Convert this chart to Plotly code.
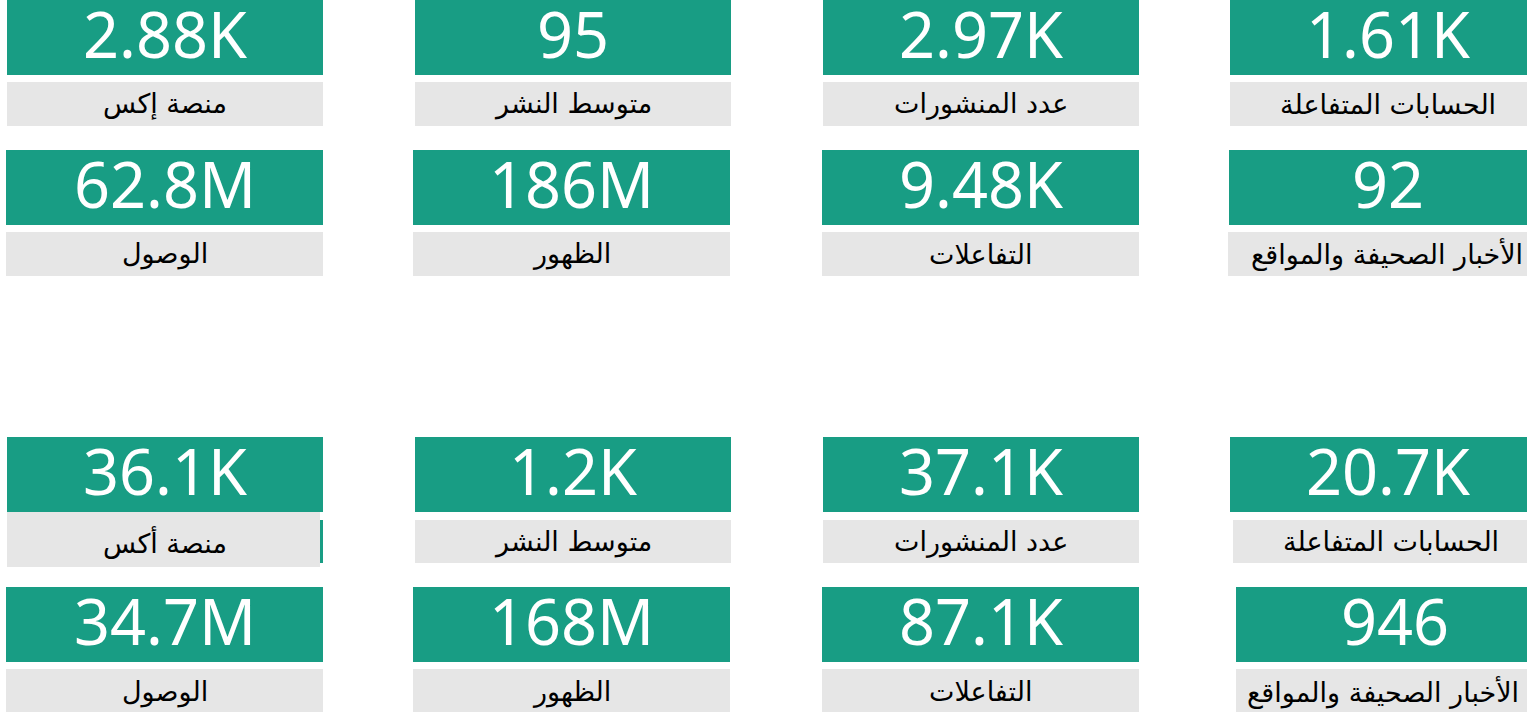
import plotly.graph_objects as go

# two periods, four cards per row, two rows per period
labels_row1 = ['منصة إكس', 'متوسط النشر', 'عدد المنشورات', 'الحسابات المتفاعلة']
labels_row2 = ['الوصول', 'الظهور', 'التفاعلات', 'الأخبار الصحيفة والمواقع']
labels_row1_b = ['منصة أكس', 'متوسط النشر', 'عدد المنشورات', 'الحسابات المتفاعلة']

values_top_row1 = [2880, 95, 2970, 1610]
values_top_row2 = [62.8e6, 186e6, 9480, 92]
values_bottom_row1 = [36100, 1200, 37100, 20700]
values_bottom_row2 = [34.7e6, 168e6, 87100, 946]

GREEN = '#189D84'
GREY = '#E6E6E6'
W, H = 1527, 712


def fmt(v):
    for div, suf in ((1e6, 'M'), (1e3, 'K')):
        if v >= div:
            return f'{v / div:.3g}' + suf
    return f'{v:.3g}'


# values, labels, value y, label y, value x0s, label x0s, width
rows = [
    (values_top_row1, labels_row1, (0, 75), (82, 126), [7, 415, 823, 1230], [7, 415, 823, 1230], 316),
    (values_top_row2, labels_row2, (150, 225), (232, 276), [6, 413, 822, 1229], [6, 413, 822, 1228], 317),
    (values_bottom_row1, labels_row1_b, (437, 512), (520, 563), [7, 415, 823, 1230], [7, 415, 823, 1233], 316),
    (values_bottom_row2, labels_row2, (587, 662), (669, 714), [6, 413, 822, 1236], [6, 413, 822, 1236], 317),
]
# label centre nudges where the card runs past the right edge
label_dx = {(3, 3): -12}

fig = go.Figure()
shapes = []
annotations = []

# the first label of the second period sits over a thin green strip
shapes.append(dict(type='rect', xref='x', yref='y', x0=320, x1=323, y0=520, y1=563,
                   fillcolor=GREEN, line=dict(width=0), layer='below'))
shapes.append(dict(type='rect', xref='x', yref='y', x0=7, x1=320, y0=512, y1=567,
                   fillcolor=GREY, line=dict(width=0), layer='below'))

for i, (vals, labs, vy, ly, vx0s, lx0s, w) in enumerate(rows):
    for j, (v, lab, vx0, lx0) in enumerate(zip(vals, labs, vx0s, lx0s)):
        shapes.append(dict(type='rect', xref='x', yref='y', x0=vx0, x1=vx0 + w, y0=vy[0], y1=vy[1],
                           fillcolor=GREEN, line=dict(width=0), layer='below'))
        if not (i == 2 and j == 0):
            shapes.append(dict(type='rect', xref='x', yref='y', x0=lx0, x1=lx0 + w, y0=ly[0], y1=ly[1],
                               fillcolor=GREY, line=dict(width=0), layer='below'))
        annotations.append(dict(x=vx0 + w / 2, y=(vy[0] + vy[1]) / 2 - 4, xref='x', yref='y',
                                text=fmt(v), showarrow=False, xanchor='center', yanchor='middle',
                                font=dict(family='Noto Sans', size=63, color='white')))
        annotations.append(dict(x=lx0 + w / 2 + label_dx.get((i, j), 0), y=(ly[0] + ly[1]) / 2,
                                xref='x', yref='y', text=lab, showarrow=False,
                                xanchor='center', yanchor='middle',
                                font=dict(family='DejaVu Sans', size=27, color='black')))

fig.update_layout(
    width=W, height=H,
    margin=dict(l=0, r=0, t=0, b=0),
    paper_bgcolor='white', plot_bgcolor='white',
    xaxis=dict(range=[0, W], visible=False, fixedrange=True),
    yaxis=dict(range=[H, 0], visible=False, fixedrange=True),
    shapes=shapes, annotations=annotations,
    showlegend=False,
)

fig.write_html('out.html', config={'displayModeBar': False},
               post_script="document.body.style.margin='0';document.body.style.overflow='hidden';")
